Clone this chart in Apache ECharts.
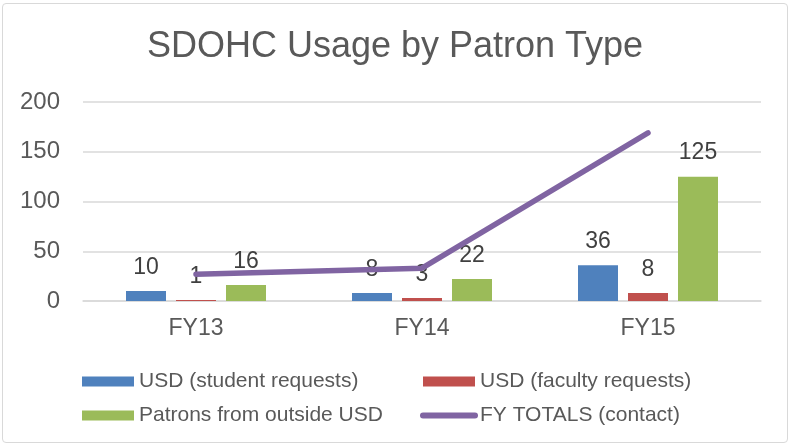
<!DOCTYPE html>
<html>
<head>
<meta charset="utf-8">
<script src="https://cdn.jsdelivr.net/npm/echarts@6/dist/echarts.min.js"></script>
<style>
  html, body { margin: 0; padding: 0; background: #fff; }
  #chart {
    position: absolute; left: 2px; top: 3px;
    width: 786px; height: 440px;
    border: 1px solid #d9d9d9; border-radius: 4px; box-sizing: border-box;
  }
</style>
</head>
<body>
<div id="chart"></div>
<script>
  // data
  const categories = ['FY13', 'FY14', 'FY15'];
  const studentRequests = [10, 8, 36];
  const facultyRequests = [1, 3, 8];
  const outsidePatrons = [16, 22, 125];
  const fyTotals = [27, 33, 169];
  const yTicks = { min: 0, max: 200, interval: 50 };

  const textColor = '#595959';
  const font = 'Liberation Sans, Arial, sans-serif';

  let chart = echarts.init(document.getElementById('chart'));

  function barSeries(name, data, color) {
    return {
      name: name,
      type: 'bar',
      data: data,
      barWidth: 40,
      barGap: '25%',
      itemStyle: { color: color },
      label: {
        show: true,
        position: 'top',
        distance: 12,
        color: '#404040',
        fontSize: 23,
        fontFamily: font
      },
      z: 2
    };
  }

  const legendText = { color: textColor, fontSize: 21, fontFamily: font };

  chart.setOption({
    animation: false,
    title: {
      text: 'SDOHC Usage by Patron Type',
      left: 'center',
      top: 20,
      textStyle: { color: textColor, fontSize: 36, fontWeight: 'normal', fontFamily: font }
    },
    legend: [
      {
        data: [
          { name: 'USD (student requests)', icon: 'rect' },
          { name: 'Patrons from outside USD', icon: 'rect' }
        ],
        orient: 'vertical',
        left: 74,
        top: 362,
        itemWidth: 52,
        itemHeight: 10,
        itemGap: 13,
        textStyle: legendText
      },
      {
        data: [
          { name: 'USD (faculty requests)', icon: 'rect' },
          'FY TOTALS (contact)'
        ],
        orient: 'vertical',
        left: 412,
        top: 362,
        itemWidth: 52,
        itemHeight: 10,
        itemGap: 13,
        lineStyle: { width: 6, cap: 'round' },
        textStyle: legendText
      }
    ],
    grid: {
      left: 80,
      right: 26,
      top: 98,
      bottom: 141
    },
    xAxis: {
      type: 'category',
      data: categories,
      axisTick: { show: false },
      axisLine: { lineStyle: { color: '#d9d9d9', width: 1.5 } },
      axisLabel: { color: textColor, fontSize: 23, fontFamily: font, margin: 16 }
    },
    yAxis: {
      type: 'value',
      min: yTicks.min,
      max: yTicks.max,
      interval: yTicks.interval,
      axisLine: { show: false },
      axisTick: { show: false },
      splitLine: { lineStyle: { color: '#d9d9d9', width: 1.5 } },
      axisLabel: { color: textColor, fontSize: 24, fontFamily: font, margin: 23 }
    },
    series: [
      barSeries('USD (student requests)', studentRequests, '#4f81bd'),
      barSeries('USD (faculty requests)', facultyRequests, '#c0504d'),
      barSeries('Patrons from outside USD', outsidePatrons, '#9bbb59'),
      {
        name: 'FY TOTALS (contact)',
        type: 'line',
        data: fyTotals,
        symbol: 'none',
        lineStyle: { color: '#8064a2', width: 5.5, cap: 'round' },
        itemStyle: { color: 'rgba(0,0,0,0)' },
        z: 3
      }
    ]
  });
</script>
</body>
</html>
